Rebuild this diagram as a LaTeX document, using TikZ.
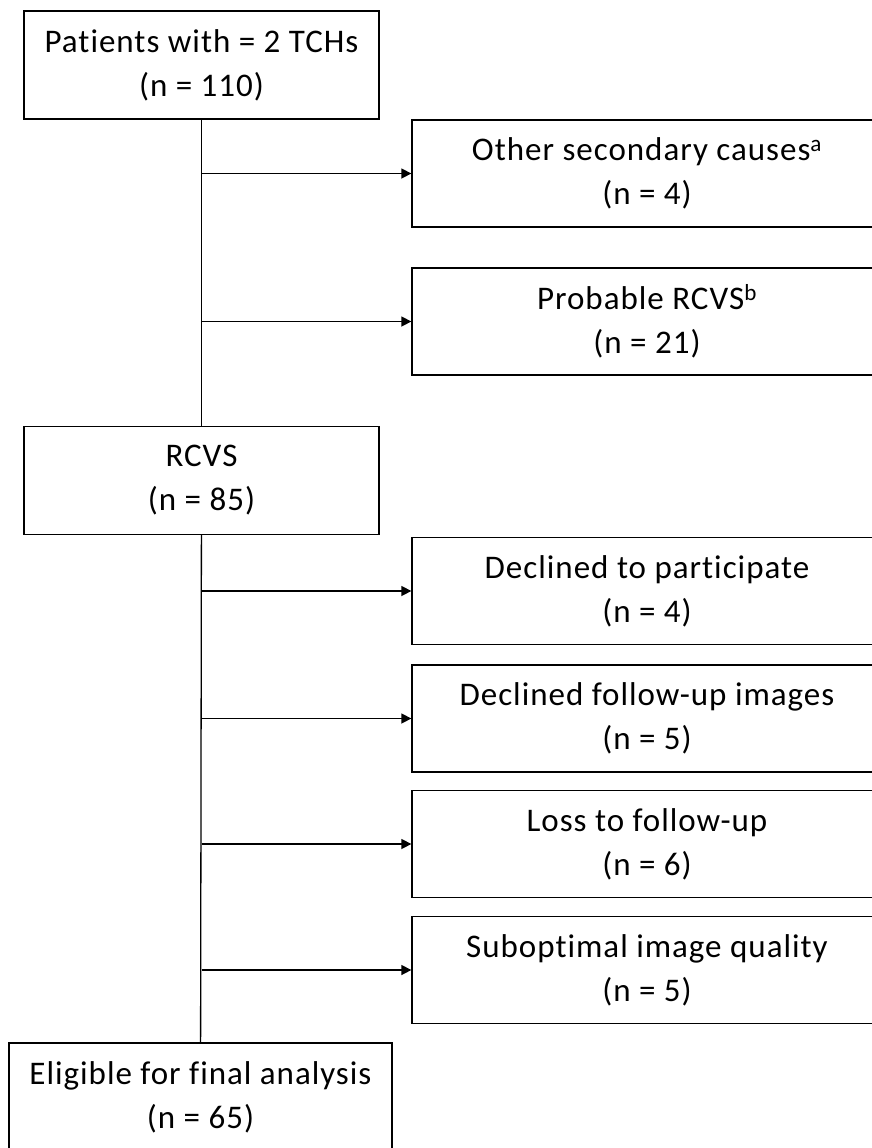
\documentclass[tikz,border=0pt]{standalone}
\usepackage{fontspec}
\setmainfont[LetterSpace=3,Ligatures=NoCommon]{Carlito}
\usetikzlibrary{arrows.meta}

\begin{document}
\begin{tikzpicture} %Diagrama de flujo
      [
      x=1pt, y=-1pt,
      box/.style={rectangle, draw, line width=1.3pt, align=center, inner sep=0pt, font=\fontsize{33}{44}\selectfont},
      mainbox/.style={box, minimum width=355pt, minimum height=108pt},
      sidebox/.style={box, minimum width=470pt, minimum height=107pt},
      arrow/.style={-{Triangle[length=10pt,width=10pt]}, line width=1.5pt}
      ]
      \useasboundingbox (0,0) rectangle (872,1148);
      \node[mainbox] (tch) at (201.5,65) {Patients with = 2 TCHs\\(n = 110)};
      \node[mainbox] (rcvs) at (201.5,480.5) {RCVS\\(n = 85)};
      \node[box, minimum width=383pt, minimum height=108pt] (final) at (200.5,1097) {Eligible for final analysis\\(n = 65)};
      \node[sidebox] (other) at (647,173.5) {Other secondary causes\textsuperscript{a}\\(n = 4)};
      \node[sidebox] (prob) at (647,321.5) {Probable RCVS\textsuperscript{b}\\(n = 21)};
      \node[sidebox] (decl) at (647,591) {Declined to participate\\(n = 4)};
      \node[sidebox] (fup) at (647,718.5) {Declined follow-up images\\(n = 5)};
      \node[sidebox] (loss) at (647,844) {Loss to follow-up\\(n = 6)};
      \node[sidebox] (qual) at (647,970) {Suboptimal image quality\\(n = 5)};
      \begin{scope}[line width=1.3pt]
        \draw (tch) -- (rcvs);  \draw (rcvs) -- (final);
      \end{scope}
      \begin{scope}[arrow]
        \draw (tch.south |- other.west) -- (other.west);  \draw (tch.south |- prob.west) -- (prob.west);
        \draw (rcvs.south |- decl.west) -- (decl.west); \draw (rcvs.south |- fup.west) -- (fup.west);
        \draw (rcvs.south |- loss.west) -- (loss.west); \draw (rcvs.south |- qual.west) -- (qual.west);
      \end{scope}
\end{tikzpicture}
\end{document}
